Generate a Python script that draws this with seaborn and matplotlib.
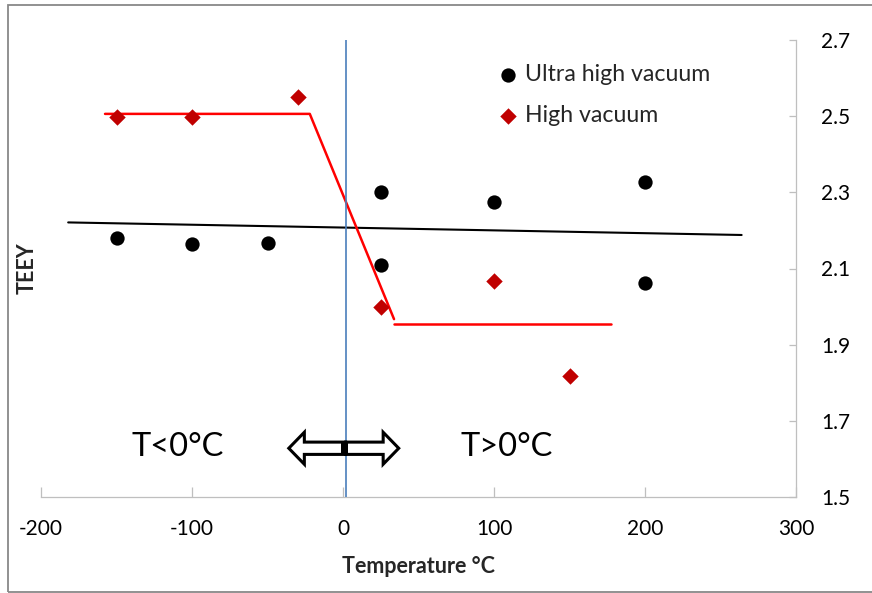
import matplotlib
matplotlib.use("Agg")
import matplotlib.pyplot as plt
import seaborn as sns
from matplotlib.patches import FancyArrow, Rectangle

# ---- data ----
uhv_temp = [-150, -100, -50, 25, 25, 100, 200, 200]
uhv_teey = [2.181, 2.165, 2.167, 2.300, 2.109, 2.275, 2.326, 2.061]
hv_temp = [-150, -100, -30, 25, 100, 150]
hv_teey = [2.499, 2.499, 2.551, 1.999, 2.068, 1.818]

trend_temp = [-182, 264]
trend_teey = [2.221, 2.188]
step_temp = [-157.6, -22, 33.8]
step_teey = [2.506, 2.506, 1.967]
low_temp = [33.8, 177.2]
low_teey = [1.953, 1.953]

x_ticks = [-200, -100, 0, 100, 200, 300]
y_ticks = [1.5, 1.7, 1.9, 2.1, 2.3, 2.5, 2.7]
y_tick_labels = ["1.5", "1.7", "1.9", "2.1", "2.3", "2.5", "2.7"]

sns.set_theme(style="white")
plt.rcParams["font.family"] = ["Lato", "DejaVu Sans"]
plt.rcParams["axes.unicode_minus"] = False

fig = plt.figure(figsize=(8.72, 5.93), dpi=100)
ax = fig.add_axes([41 / 872, 1 - 497 / 593, 755 / 872, 457 / 593])

# lines
sns.lineplot(x=trend_temp, y=trend_teey, color="black", lw=1.5, ax=ax,
             sort=False, estimator=None, legend=False, zorder=3)
sns.lineplot(x=step_temp, y=step_teey, color="#FF0000", lw=1.8, ax=ax,
             sort=False, estimator=None, legend=False, zorder=3)
sns.lineplot(x=low_temp, y=low_teey, color="#FF0000", lw=1.8, ax=ax,
             sort=False, estimator=None, legend=False, zorder=3)
ax.axvline(1.7, color="#4A7EBB", lw=1.2, zorder=4)

# points
sns.scatterplot(x=uhv_temp, y=uhv_teey, marker="o", s=106, color="black",
                linewidth=0, label="Ultra high vacuum", ax=ax, zorder=5)
sns.scatterplot(x=hv_temp, y=hv_teey, marker="D", s=70, color="#C00000",
                linewidth=0, label="High vacuum", ax=ax, zorder=5)

# double hollow arrow
ay = 1.628
for dx in (-37.6, 35.2):
    ax.add_patch(FancyArrow(1.7, ay, dx, 0, width=0.0323, head_width=0.084,
                            head_length=10.3, length_includes_head=True,
                            facecolor="white", edgecolor="black", lw=2.2,
                            zorder=6))
ax.add_patch(Rectangle((-1.6, ay - 0.019), 5.0, 0.038, facecolor="black",
                       edgecolor="none", zorder=7))

ax.text(-109.5, 1.631, "T<0°C", fontsize=23.5, ha="center", va="center",
        color="black")
ax.text(108.2, 1.631, "T>0°C", fontsize=23.5, ha="center", va="center",
        color="black")

# axes styling
ax.set_xlim(-200, 300)
ax.set_ylim(1.5, 2.7)
ax.set_xticks(x_ticks)
ax.set_yticks(y_ticks)
ax.set_yticklabels(y_tick_labels)
ax.yaxis.tick_right()
for s in ("left", "top"):
    ax.spines[s].set_visible(False)
for s in ("right", "bottom"):
    ax.spines[s].set_color("#BFBFBF")
    ax.spines[s].set_linewidth(0.9)
ax.tick_params(axis="x", direction="in", length=7, width=0.9, color="#BFBFBF",
               pad=16, labelsize=15, labelcolor="black", bottom=True)
ax.tick_params(axis="y", direction="in", length=5, width=0.9, color="#BFBFBF",
               pad=18, labelsize=15, labelcolor="black", right=True, left=False)

ax.set_xlabel("Temperature °C", fontsize=15.5, fontweight="bold", labelpad=12)
ax.set_ylabel("TEEY", fontsize=15.5, fontweight="bold")
ax.yaxis.set_label_position("left")
ax.yaxis.set_label_coords(-0.004, 0.5)

leg = ax.legend(loc="upper left", bbox_to_anchor=(0.606, 0.948), frameon=False,
                fontsize=16.7, handlelength=0.8, handletextpad=0.35,
                borderpad=0, borderaxespad=0, labelspacing=0.87)

# outer border
fig.patches.append(Rectangle((8 / 872, 1 / 593), 1.1, 1 - 6 / 593,
                             transform=fig.transFigure, fill=False,
                             edgecolor="#888888", lw=1.3))

fig.savefig("out.png", dpi=100)
